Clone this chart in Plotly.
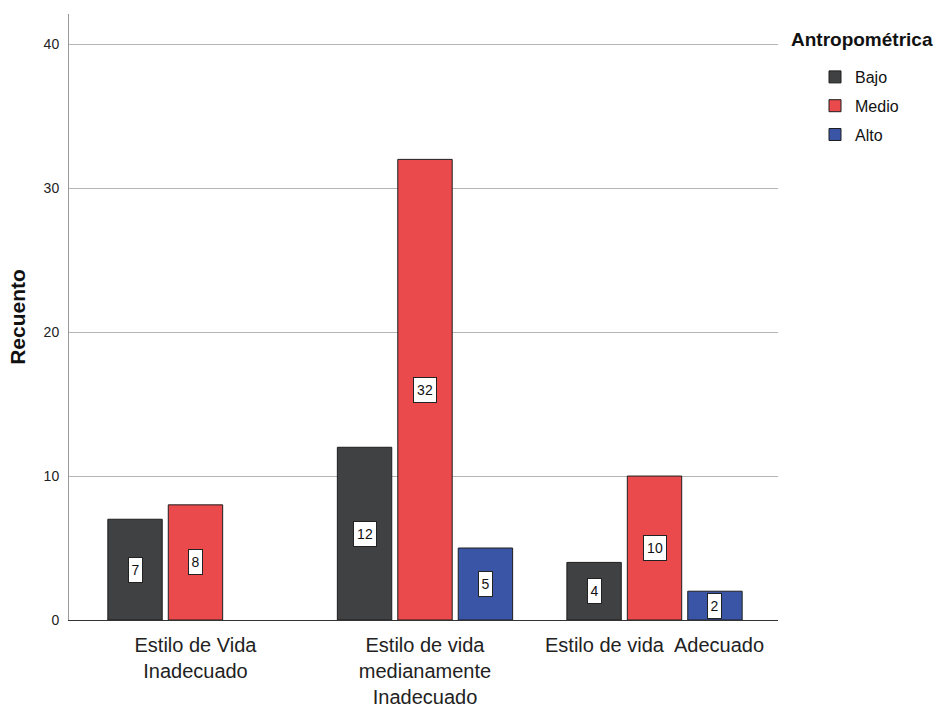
import plotly.graph_objects as go

categories = ["Estilo de Vida<br>Inadecuado",
              "Estilo de vida<br>medianamente<br>Inadecuado",
              "Estilo de vida  Adecuado"]
series_names = ["Bajo", "Medio", "Alto"]
bajo = [7, 12, 4]
medio = [8, 32, 10]
alto = [None, 5, 2]
colors = ["#404143", "#eb4a4c", "#3b55a6"]
y_ticks = [0, 10, 20, 30, 40]

FONT = "Liberation Sans, Arial, sans-serif"

fig = go.Figure()
values = [bajo, medio, alto]
for name, vals, col in zip(series_names, values, colors):
    fig.add_trace(go.Bar(
        name=name, legendgroup=name, x=list(range(len(categories))), y=vals,
        marker=dict(color=col, line=dict(color="#1e1e1e", width=1)),
    ))

# value labels in small white boxes at the middle of each bar
bargap = 0.21
groupgap = 0.1
slot = (1 - bargap) / 3
for k, vals in enumerate(values):
    for i, v in enumerate(vals):
        if v is None:
            continue
        fig.add_annotation(
            x=i + (k - 1) * slot, y=v / 2, text=str(v), showarrow=False,
            font=dict(family=FONT, size=14, color="#111"),
            width=9 * len(str(v)) + 2, height=22,
            bgcolor="white", bordercolor="#222", borderwidth=1, borderpad=1,
        )

# legend heading placed as paper-relative text
fig.add_annotation(
    x=(789 - 69) / (939 - 69 - 161), y=(620 - 40) / (620 - 14),
    xref="paper", yref="paper", text="<b>Antropométrica</b>",
    showarrow=False, xanchor="left", yanchor="middle",
    font=dict(family=FONT, size=19, color="#111"),
)

fig.update_layout(
    width=939, height=709,
    margin=dict(l=69, r=161, t=14, b=89),
    plot_bgcolor="white", paper_bgcolor="white",
    barmode="group", bargap=bargap, bargroupgap=groupgap,
    showlegend=True,
    legend=dict(
        x=(815 - 69) / (939 - 69 - 161), y=(620 - 60) / (620 - 14),
        xanchor="left", yanchor="top",
        font=dict(family=FONT, size=16, color="#111"),
        traceorder="grouped", tracegroupgap=5,
        bgcolor="rgba(0,0,0,0)",
    ),
    xaxis=dict(
        range=[-0.551, 2.538], tickmode="array",
        tickvals=list(range(len(categories))), ticktext=categories,
        showline=True, linecolor="#333", linewidth=1, ticks="",
        ticklabelstandoff=7, automargin=False,
        tickfont=dict(family=FONT, size=20, color="#222"),
        showgrid=False, zeroline=False,
    ),
    yaxis=dict(
        range=[0, 42.1], tickvals=y_ticks,
        showline=True, linecolor="#999", linewidth=1,
        showgrid=True, gridcolor="#b5b5b5", gridwidth=1, zeroline=False,
        ticks="", ticklabelstandoff=6, automargin=False,
        tickfont=dict(family=FONT, size=14, color="#222"),
        title=dict(text="<b>Recuento</b>", standoff=12,
                   font=dict(family=FONT, size=21, color="#111")),
    ),
)

fig.write_html("out.html")
